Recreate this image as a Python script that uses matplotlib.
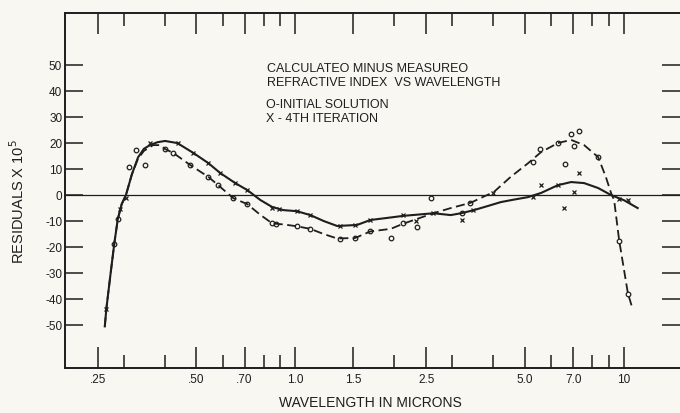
import matplotlib
matplotlib.use("Agg")
import matplotlib.pyplot as plt

plt.rcParams['font.family'] = ['Liberation Sans', 'DejaVu Sans']

# solid curve: 4th iteration
iter_x = [0.263, 0.266, 0.274, 0.281, 0.288, 0.296, 0.305, 0.318, 0.332, 0.346, 0.361, 0.380,
          0.401, 0.437, 0.489, 0.543, 0.590, 0.656, 0.714, 0.782, 0.85, 0.92, 1.01, 1.11, 1.22,
          1.34, 1.54, 1.69, 1.9, 2.13, 2.63, 2.97, 3.22, 3.49, 3.9, 4.22, 4.6, 5.1, 5.59, 6.29,
          6.9, 7.56, 8.34, 9.13, 10.0, 11.0]
iter_y = [-50.5, -43.5, -30, -18.8, -9.3, -3.5, 0, 8, 14.5, 17.8, 19.2, 20.3,
          20.8, 20, 16.2, 12.3, 8.5, 4.6, 1.9, -1.9, -4.6, -5.8, -6.2, -7.7, -10,
          -11.9, -11.5, -9.6, -8.8, -8, -7, -7.7, -6.9, -5.8, -4, -2.7, -1.8, -0.8, 0.8, 3.8,
          5, 4.6, 2.7, 0, -2, -5]

# dashed curve: initial solution
init_x = [0.263, 0.266, 0.274, 0.281, 0.288, 0.296, 0.305, 0.318, 0.332, 0.346, 0.369, 0.388,
          0.401, 0.425, 0.479, 0.543, 0.582, 0.647, 0.714, 0.78, 0.85, 0.92, 1.01, 1.11, 1.22,
          1.34, 1.52, 1.69, 1.95, 2.13, 2.63, 2.97, 3.41, 3.74, 4.01, 4.52, 5.1, 5.59, 6.29,
          6.9, 7.56, 8.34, 8.8, 9.13, 9.33, 9.66, 10.27, 10.6]
init_y = [-50.5, -43.5, -30, -18.8, -9.3, -3.5, 0, 8, 14, 17, 19.2, 19.2,
          17.7, 16.2, 11.5, 7, 3.8, -1.2, -3.5, -7.5, -10.9, -11.3, -12, -13, -15,
          -16.7, -16.5, -14, -13, -11, -7, -5, -3, -0.6, 1.1, 7, 12.2, 16.5, 20,
          21.2, 19.2, 14.6, 7, 0.8, -2, -17.3, -37.7, -43.5]

# measured points, O = initial solution
o_x = [0.281, 0.288, 0.312, 0.327, 0.349, 0.401, 0.425, 0.479, 0.543, 0.582, 0.647, 0.714,
       0.85, 0.87, 1.01, 1.11, 1.37, 1.52, 1.69, 1.95, 2.13, 2.34, 2.58, 3.22, 3.41, 5.3,
       5.55, 6.29, 6.6, 6.9, 7.04, 7.3, 8.34, 9.66, 10.27]
o_y = [-18.8, -9.3, 10.8, 17.3, 11.5, 17.7, 16.2, 11.5, 7, 3.8, -1.2, -3.5,
       -10.9, -11, -12, -13, -17, -16.5, -13.9, -16.7, -10.9, -12.2, -1.2, -6.9, -3, 12.7,
       17.7, 20, 11.9, 23.5, 18.8, 24.6, 14.6, -17.7, -38]

# X = 4th iteration
x_x = [0.266, 0.293, 0.305, 0.362, 0.44, 0.489, 0.543, 0.59, 0.656, 0.714, 0.85, 0.89,
       1.01, 1.11, 1.37, 1.52, 1.69, 2.13, 2.32, 2.63, 3.22, 3.46, 3.98, 5.3, 5.59, 6.29,
       6.55, 7.04, 7.3, 9.66, 10.27]
x_y = [-43.8, -5.4, -1, 20, 20, 16.2, 12.3, 8.5, 4.6, 1.9, -5, -5.5,
       -6.2, -7.7, -12, -11.5, -9.6, -7.7, -10, -7, -9.6, -5.8, 0.8, -0.8, 3.8, 3.8,
       -5, 1, 8.5, -1.5, -2]

major_ticks = [0.25, 0.5, 0.7, 1.0, 1.5, 2.5, 5.0, 7.0, 10]
major_labels = ['.25', '.50', '.70', '1.0', '1.5', '2.5', '5.0', '7.0', '10']
minor_ticks = [0.3, 0.4, 0.6, 0.8, 0.9, 2, 3, 4, 6, 8, 9]
y_ticks = [-50, -40, -30, -20, -10, 0, 10, 20, 30, 40, 50]

ink = '#1e1e1e'
bg = '#f8f7f2'

fig = plt.figure(figsize=(6.8, 4.13), dpi=100, facecolor=bg)
ax = fig.add_axes([65 / 680, 1 - 368 / 413, 615 / 680, 355 / 413], facecolor=bg)

ax.set_xscale('log')
ax.set_xlim(0.199, 14.8)
ax.set_ylim(-66.5, 70)

ax.axhline(0, color=ink, lw=0.9)
ax.plot(iter_x, iter_y, color=ink, lw=1.5)
ax.plot(init_x, init_y, color=ink, lw=1.3, dashes=(5, 2.5))
ax.plot(o_x, o_y, 'o', ms=3.3, mfc='none', mec=ink, mew=0.9)
ax.plot(x_x, x_y, 'x', ms=3.3, mec=ink, mew=0.9)

ax.set_xticks(major_ticks)
ax.set_xticklabels(major_labels)
ax.set_xticks(minor_ticks, minor=True)
ax.xaxis.set_minor_formatter(plt.NullFormatter())
ax.set_yticks(y_ticks)
ax.set_yticklabels([str(v) for v in y_ticks])

ax.tick_params(axis='x', which='major', direction='in', top=True, bottom=True,
               length=15, width=1.1, color=ink, labelsize=8.5, pad=4, labelcolor=ink)
ax.tick_params(axis='x', which='minor', direction='in', top=True, bottom=True,
               length=9.5, width=1.1, color=ink)
ax.tick_params(axis='y', which='major', direction='in', left=True, right=True,
               length=13, width=1.1, color=ink, labelsize=8.5, pad=2, labelcolor=ink)
ax.tick_params(axis='y', which='minor', left=False, right=False)

for side in ['left', 'top', 'bottom']:
    ax.spines[side].set_color(ink)
    ax.spines[side].set_linewidth(1.4)
ax.spines['right'].set_visible(False)

ax.set_xlabel('WAVELENGTH IN MICRONS', fontsize=10, color=ink, va='center')
ax.xaxis.set_label_coords(0.496, -(403 - 368) / 355)
ax.set_ylabel('RESIDUALS X 10$^5$', fontsize=10.5, color=ink)
ax.yaxis.set_label_coords(-0.062, 0.47)

txt_kw = dict(transform=ax.transAxes, fontsize=9, color=ink, ha='left', va='center')
ax.text((267 - 65) / 615, (368 - 69) / 355, 'CALCULATEO MINUS MEASUREO', **txt_kw)
ax.text((267 - 65) / 615, (368 - 83) / 355, 'REFRACTIVE INDEX  VS WAVELENGTH', **txt_kw)
ax.text((266 - 65) / 615, (368 - 105) / 355, 'O-INITIAL SOLUTION', **txt_kw)
ax.text((266 - 65) / 615, (368 - 119) / 355, 'X - 4TH ITERATION', **txt_kw)

fig.savefig('out.png', dpi=100, facecolor=bg)
